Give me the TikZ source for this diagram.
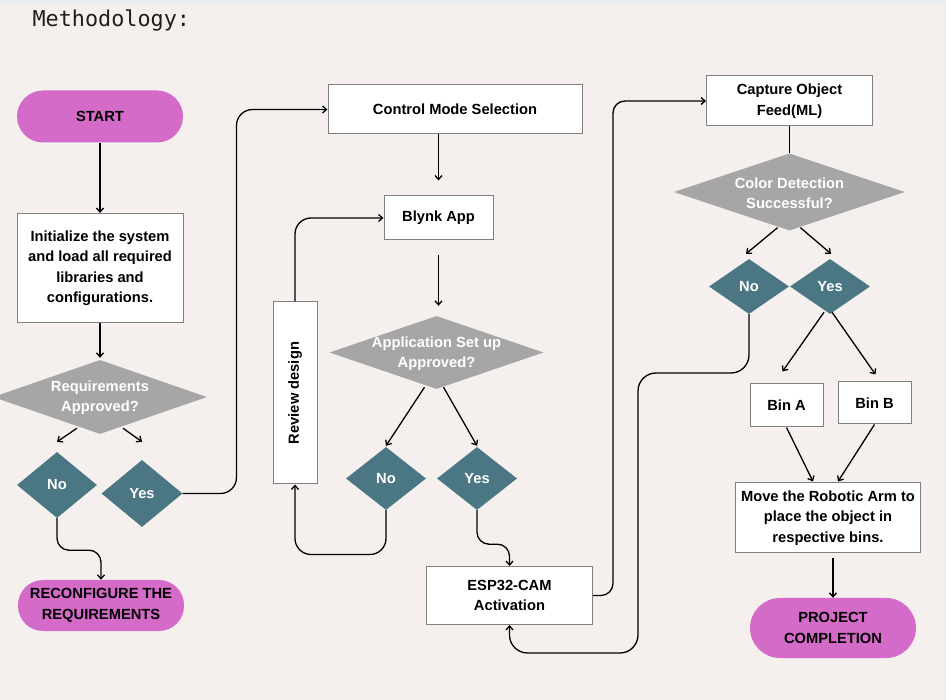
\documentclass[tikz,border=0pt]{standalone}
\usepackage{fontspec}
\setmainfont{Liberation Sans}
\newfontfamily\titlefont{DejaVu Sans Mono}
\usetikzlibrary{arrows.meta,shapes.geometric,calc}
\definecolor{bg}{HTML}{F5F0EE}
\definecolor{topc}{HTML}{ECEEF3}
\definecolor{sidec}{HTML}{EFEFF2}
\definecolor{pillc}{HTML}{D46BC8}
\definecolor{teal1}{HTML}{4A7783}
\definecolor{grayd}{HTML}{A6A6A6}
\definecolor{boxline}{HTML}{7F7F7F}
\definecolor{titlec}{HTML}{1E1E1E}
\newcommand\boxfont{\fontsize{14.7}{20.5}\selectfont\bfseries}
\begin{document}
\begin{tikzpicture}[x=1pt,y=-1pt,
 box/.style={draw=boxline, line width=1pt, fill=white, inner sep=0pt, font=\boxfont, align=center, text=black},
 pill/.style={fill=pillc, inner sep=0pt, font=\boxfont, align=center, text=black},
 gdia/.style={diamond, fill=grayd, inner sep=0pt},
 tdia/.style={diamond, fill=teal1, inner sep=0pt},
 wtext/.style={font=\boxfont, text=white, align=center},
 arr/.style={-{Straight Barb[length=4pt,width=7pt]}, line width=1.3pt},
 link/.style={line width=1.3pt}]
\fill[bg] (0,0) rectangle (946,700);
\fill[topc] (0,0) rectangle (946,5);
\fill[sidec] (943,0) rectangle (946,700);
\useasboundingbox (0,0) rectangle (946,700);

\node[anchor=base west, font=\titlefont\fontsize{21.8}{24}\selectfont, text=titlec] (title) at (29,27) {Methodology:};

% left column
\node[pill, minimum width=166, minimum height=52, rounded corners=26] (start) at (100,116.5) {START};
\node[box, minimum width=166, minimum height=109] (init) at (100,268) {Initialize the system\\and load all required\\libraries and\\configurations.};
\node[gdia, minimum width=214, minimum height=74] (req) at (100,397) {};
\node[wtext] (reqT) at (100,397.5) {Requirements\\Approved?};
\node[tdia, minimum width=80, minimum height=66] (reqno) at (57,485) {};
\node[wtext] (reqnoT) at (reqno) {No};
\node[tdia, minimum width=81, minimum height=67] (reqyes) at (142,493.5) {};
\node[wtext] (reqyesT) at (reqyes) {Yes};
\node[pill, minimum width=166, minimum height=51, rounded corners=25] (reconf) at (101,605.5) {RECONFIGURE THE\\REQUIREMENTS};

% middle column
\node[box, minimum width=254, minimum height=49] (ctrl) at (455,109.5) {Control Mode Selection};
\node[box, minimum width=109, minimum height=44] (blynk) at (438.5,218) {Blynk App};
\node[gdia, minimum width=214, minimum height=73] (app) at (436.5,352.5) {};
\node[wtext] (appT) at (436.5,353.5) {Application Set up\\Approved?};
\node[tdia, minimum width=80, minimum height=63] (appno) at (386,478.5) {};
\node[wtext] (appnoT) at (appno) {No};
\node[tdia, minimum width=80, minimum height=63] (appyes) at (477,478.5) {};
\node[wtext] (appyesT) at (appyes) {Yes};
\node[box, minimum width=44, minimum height=182] (review) at (295,393) {};
\node[rotate=90, font=\boxfont] (reviewT) at (review) {Review design};
\node[box, minimum width=166, minimum height=58] (esp) at (509.5,595.5) {ESP32-CAM\\Activation};

% right column
\node[box, minimum width=166, minimum height=50] (cap) at (789.5,101) {Capture Object\\Feed(ML)};
\node[gdia, minimum width=231, minimum height=77] (col) at (789.5,192) {};
\node[wtext] (colT) at (789.5,193) {Color Detection\\Successful?};
\node[tdia, minimum width=80, minimum height=55] (colno) at (749,286.5) {};
\node[wtext] (colnoT) at (colno) {No};
\node[tdia, minimum width=80, minimum height=55] (colyes) at (830,286.5) {};
\node[wtext] (colyesT) at (colyes) {Yes};
\node[box, minimum width=73, minimum height=43] (binA) at (786.5,405.5) {Bin A};
\node[box, minimum width=73, minimum height=42] (binB) at (874.5,403) {Bin B};
\node[box, minimum width=185, minimum height=70] (move) at (828,518) {Move the Robotic Arm to\\place the object in\\respective bins.};
\node[pill, minimum width=166, minimum height=60, rounded corners=30] (proj) at (833,628) {PROJECT\\COMPLETION};

\coordinate (loopA) at (638,373);
\coordinate (loopB) at (509.5,653);

% connectors
\draw[arr] (start.south) -- (init.north);
\draw[arr] (init.south) -- ($(req.north)+(0,-2)$);
\draw[arr] ($(req.south)+(-23,-6)$) -- ($(reqno.north)+(0,-10)$);
\draw[arr] ($(req.south)+(23,-6)$) -- ($(reqyes.north)+(0,-18)$);
\draw[arr, rounded corners=12] (reqno.south) -- ++(0,32) -| (reconf.north);
\draw[arr, rounded corners=16] (reqyes.east) -| ($(ctrl.west)+(-91,0)$) -- (ctrl.west);
\draw[arr] (ctrl.south -| blynk.north) -- ($(blynk.north)+(0,-15)$);
\draw[arr, shorten <=15pt, shorten >=10pt] (blynk.south) -- (blynk.south |- app.north);
\draw[arr] ($(app.south)+(-12,-2)$) -- ($(appno.north)+(0,-1)$);
\draw[arr] ($(app.south)+(7,-2)$) -- ($(appyes.north)+(0,-1)$);
\draw[arr, rounded corners=16] (appno.south) |- ($(review.south)+(0,70)$) -- (review.south);
\draw[arr, rounded corners=16] (review.north) |- (blynk.west);
\draw[arr, rounded corners=12] (appyes.south) -- ++(0,34) -| (esp.north);
\draw[arr, rounded corners=12] (esp.east) -| ($(cap.west)+(-93,0)$) -- (cap.west);
\draw[link] (cap.south) -- (col.north);
\draw[arr] ($(col.south)+(-12,-3)$) -- ($(colno.north)+(-3,-5)$);
\draw[arr] ($(col.south)+(11,-3)$) -- ($(colyes.north)+(1,-5)$);
\draw[arr, rounded corners=18] (colno.south) |- (loopA) |- (loopB) -- (esp.south);
\draw[arr] ($(colyes.south)+(-6,-2)$) -- ($(binA.north)+(-4,-12)$);
\draw[arr] ($(colyes.south)+(2,-2)$) -- ($(binB.north)+(1,-7)$);
\draw[arr] (binA.south) -- ($(move.north)+(-15,-1)$);
\draw[arr] (binB.south) -- ($(move.north)+(10,-1)$);
\draw[arr, shorten <=5pt] (move.south -| proj.north) -- (proj.north);
\end{tikzpicture}
\end{document}
